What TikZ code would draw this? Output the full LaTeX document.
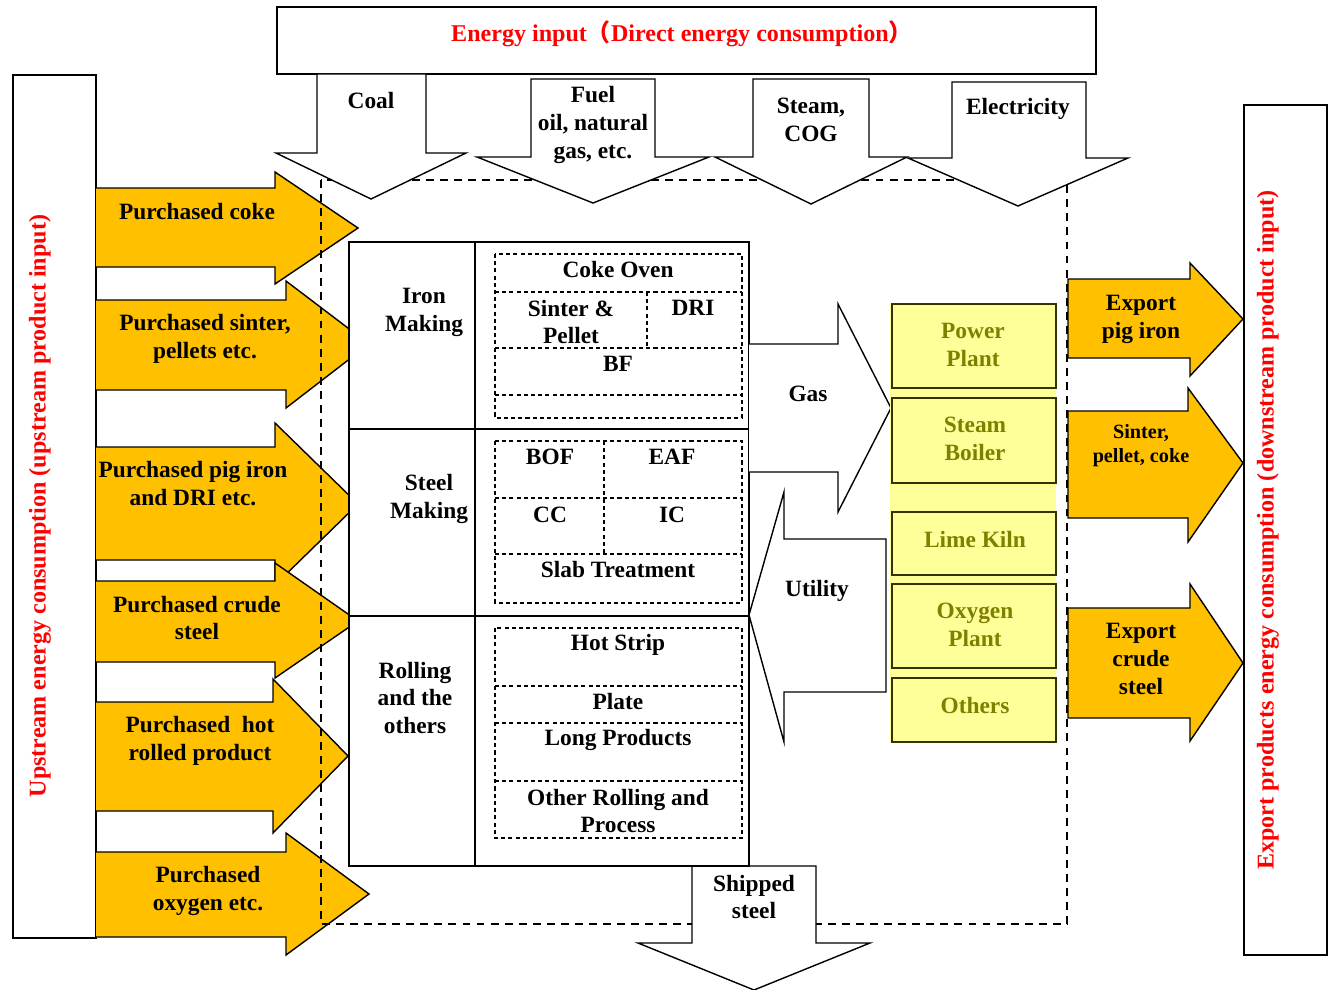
\documentclass[tikz,border=0pt]{standalone}
\usepackage{fontspec}
\setmainfont{Liberation Serif}
\newfontfamily\cjk{Noto Sans CJK SC}

\definecolor{arrowyellow}{HTML}{FFC000}
\definecolor{paleyellow}{HTML}{FFFF99}
\definecolor{olivetext}{HTML}{808000}

\tikzset{
  txt/.style={inner sep=0pt, align=center, font=\bfseries\fontsize{13.3}{15.9}\selectfont},
  redtxt/.style={txt, text=red, font=\bfseries\fontsize{13.7}{16}\selectfont},
  smalltxt/.style={txt, font=\bfseries\fontsize{11.5}{13.8}\selectfont},
  unittxt/.style={txt, text=olivetext},
  yarrow/.style={fill=arrowyellow, draw=black, line width=0.8pt},
  warrow/.style={fill=white, draw=black, line width=0.8pt},
  unitbox/.style={fill=paleyellow, draw=black!60!olivetext, line width=0.8pt},
  dotbox/.style={line width=1.2pt, dash pattern=on 2.3pt off 1.8pt},
  bounddash/.style={line width=0.7pt, dash pattern=on 4.5pt off 3.5pt},
}

\begin{document}
\begin{tikzpicture}[x=0.02cm, y=-0.02cm]
    \useasboundingbox (0,0) rectangle (1329,990);

    % Rahmen oben, links, rechts
    \draw[line width=0.8pt] (277,7) rectangle (1096,74);
    \node[redtxt] (title) at (682,34) {Energy input{\cjk （}Direct energy consumption{\cjk ）}};
    \draw[line width=0.8pt] (13,75) rectangle (96,938);
    \node[redtxt, rotate=90] (upstream) at (40,506) {Upstream energy consumption (upstream product input)};
    \draw[line width=0.8pt] (1244,105) rectangle (1327,955);
    \node[redtxt, rotate=90] (downstream) at (1268,530) {Export products energy consumption (downstream product input)};

    % Zukauf (links)
    \foreach \st/\sb/\hx/\ht/\hb/\tx/\ty in {188/267/275/172/284/358/228, 300/390/286/281/408/369/344,
        447/560/275/423/585/358/504, 581/662/275/563/678/358/621,
        702/811/273/679/833/348/756, 852/937/286/833/955/369/894} {
        \filldraw[yarrow] (96,\st) -- (\hx,\st) -- (\hx,\ht) -- (\tx,\ty) -- (\hx,\hb) -- (\hx,\sb) -- (96,\sb);
    }
    \node[txt] (pcoke) at (197,212) {Purchased coke};
    \node[txt] (psinter) at (205,339) {Purchased sinter,\\pellets etc.};
    \node[txt] (ppig) at (193,484) {Purchased pig iron\\and DRI etc.};
    \node[txt] (pcrude) at (197,618) {Purchased crude\\steel};
    \node[txt] (phot) at (200,741) {Purchased\ \ hot\\rolled product};
    \node[txt] (poxy) at (208,891) {Purchased\\oxygen etc.};

    % Export (rechts)
    \foreach \st/\sb/\hx/\ht/\hb/\ty in {279/358/1190/263/376/319, 411/518/1188/388/542/463, 608/718/1190/584/741/663} {
        \filldraw[yarrow] (1068,\sb) -- (1068,\st) -- (\hx,\st) -- (\hx,\ht) -- (1243,\ty) -- (\hx,\hb) -- (\hx,\sb) -- cycle;
    }
    \node[txt] (epig) at (1141,319) {Export\\pig iron};
    \node[smalltxt] (esinter) at (1141,446) {Sinter,\\pellet, coke};
    \node[txt] (ecrude) at (1141,659) {Export\\crude\\steel};

    % Systemgrenze
    \draw[bounddash] (321,180) rectangle (1067,924);

    % Energie rein / Stahl raus
    \foreach \sl/\sr/\st/\hy/\hl/\hr/\tx/\ty in {317/426/74/153/276/466/371/199, 531/655/79/157/477/709/593/203,
        753/869/79/157/715/907/811/204, 952/1086/82/158/908/1128/1018/206, 692/816/866/943/638/870/754/990} {
        \filldraw[warrow] (\sl,\st) -- (\sr,\st) -- (\sr,\hy) -- (\hr,\hy) -- (\tx,\ty) -- (\hl,\hy) -- (\sl,\hy) -- cycle;
    }
    \node[txt] (coal) at (371,101) {Coal};
    \node[txt] (fuel) at (593,125) {Fuel\\oil, natural\\gas, etc.};
    \node[txt] (steam) at (811,120) {Steam,\\COG};
    \node[txt] (elec) at (1018,109) {Electricity};
    \node[txt] (shipped) at (754,897) {Shipped\\steel};

    % Prozessblock
    \filldraw[fill=white, line width=0.8pt] (349,242) rectangle (749,866);
    \draw[line width=0.8pt] (475,242) -- (475,866);
    \foreach \y in {429,616} {
        \draw[line width=0.8pt] (349,\y) -- (749,\y);
    }
    \node[txt] (iron) at (424,312) {Iron\\Making};
    \node[txt] (steel) at (429,499) {Steel\\Making};
    \node[txt] (rolling) at (415,698) {Rolling\\and the\\others};

    \draw[dotbox] (495,254) rectangle (742,418);
    \draw[dotbox] (495,292) -- (742,292) (495,348) -- (742,348) (495,395) -- (742,395) (647,292) -- (647,348);
    \draw[dotbox] (495,441) rectangle (742,603);
    \draw[dotbox] (495,498) -- (742,498) (495,554) -- (742,554) (604,441) -- (604,554);
    \draw[dotbox] (495,628) rectangle (742,838);
    \draw[dotbox] (495,686) -- (742,686) (495,723) -- (742,723) (495,781) -- (742,781);

    \node[txt] (cokeoven) at (618,270) {Coke Oven};
    \node[txt] (sinter) at (571,322) {Sinter \&\\Pellet};
    \node[txt] (dri) at (693,308) {DRI};
    \node[txt] (bf) at (618,364) {BF};
    \node[txt] (bof) at (550,457) {BOF};
    \node[txt] (eaf) at (672,457) {EAF};
    \node[txt] (cc) at (550,515) {CC};
    \node[txt] (ic) at (672,515) {IC};
    \node[txt] (slab) at (618,570) {Slab Treatment};
    \node[txt] (hotstrip) at (618,645) {Hot Strip};
    \node[txt] (plate) at (618,702) {Plate};
    \node[txt] (long) at (618,740) {Long Products};
    \node[txt] (otherroll) at (618,811) {Other Rolling and\\Process};

    % Gas und Utility
    \filldraw[warrow] (749,344) -- (838,344) -- (838,304) -- (891,408) -- (838,512) -- (838,472) -- (749,472);
    \filldraw[warrow] (886,539) -- (784,539) -- (784,492) -- (749,615) -- (784,742) -- (784,692) -- (886,692) -- cycle;
    \node[txt] (gas) at (808,394) {Gas};
    \node[txt] (utility) at (817,591) {Utility};

    % Energieanlagen
    \fill[paleyellow] (890,304) rectangle (1056,742);
    \foreach \yt/\yb in {304/388, 398/483, 512/575, 584/668, 678/742} {
        \draw[unitbox] (892,\yt) rectangle (1056,\yb);
    }
    \node[unittxt] (power) at (973,345) {Power\\Plant};
    \node[unittxt] (boiler) at (975,439) {Steam\\Boiler};
    \node[unittxt] (lime) at (975,539) {Lime Kiln};
    \node[unittxt] (oxygen) at (975,625) {Oxygen\\Plant};
    \node[unittxt] (others) at (975,706) {Others};
\end{tikzpicture}
\end{document}
